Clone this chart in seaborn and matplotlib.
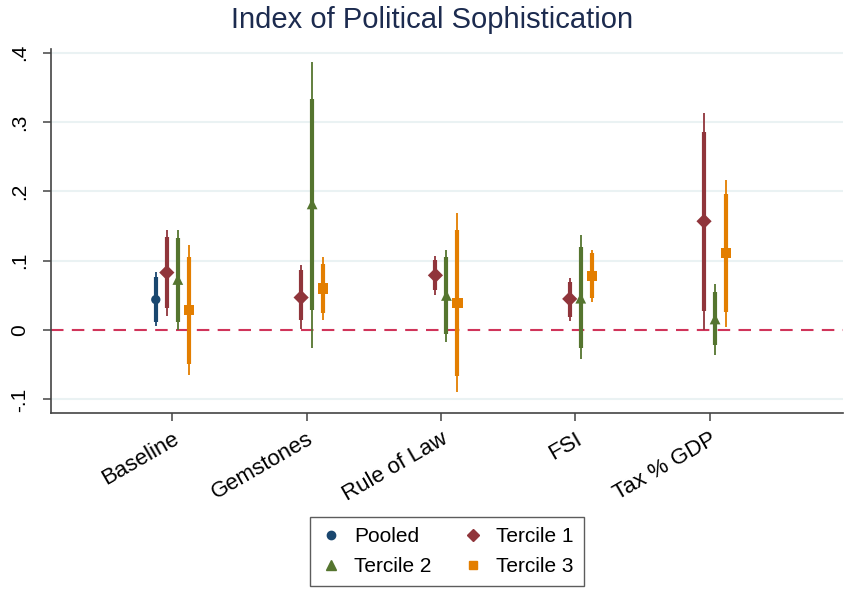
import pandas as pd
import seaborn as sns
import matplotlib.pyplot as plt
from matplotlib.lines import Line2D

categories = ["Baseline", "Gemstones", "Rule of Law", "FSI", "Tax % GDP"]
series = ["Pooled", "Tercile 1", "Tercile 2", "Tercile 3"]

# pooled model only estimated for Baseline
pooled_coef = [0.044]
pooled_lo95 = [0.006]
pooled_hi95 = [0.084]
pooled_lo90 = [0.012]
pooled_hi90 = [0.076]

t1_coef = [0.083, 0.047, 0.079, 0.045, 0.157]
t1_lo95 = [0.020, 0.001, 0.050, 0.013, 0.000]
t1_hi95 = [0.145, 0.094, 0.107, 0.075, 0.313]
t1_lo90 = [0.032, 0.014, 0.058, 0.019, 0.028]
t1_hi90 = [0.135, 0.087, 0.101, 0.070, 0.286]

t2_coef = [0.073, 0.182, 0.050, 0.046, 0.016]
t2_lo95 = [0.000, -0.026, -0.017, -0.042, -0.036]
t2_hi95 = [0.144, 0.387, 0.116, 0.137, 0.066]
t2_lo90 = [0.012, 0.029, -0.005, -0.026, -0.022]
t2_hi90 = [0.133, 0.333, 0.106, 0.120, 0.055]

t3_coef = [0.029, 0.060, 0.039, 0.078, 0.111]
t3_lo95 = [-0.065, 0.014, -0.090, 0.041, 0.005]
t3_hi95 = [0.123, 0.106, 0.169, 0.116, 0.216]
t3_lo90 = [-0.049, 0.024, -0.066, 0.047, 0.026]
t3_hi90 = [0.106, 0.096, 0.145, 0.111, 0.197]

colors = {"Pooled": "#1a476f", "Tercile 1": "#90353b",
          "Tercile 2": "#55752f", "Tercile 3": "#e37e00"}
markers = {"Pooled": "o", "Tercile 1": "D", "Tercile 2": "^", "Tercile 3": "s"}
msize = {"Pooled": 45, "Tercile 1": 60, "Tercile 2": 60, "Tercile 3": 55}
offset = {"Pooled": -0.123, "Tercile 1": -0.041, "Tercile 2": 0.041, "Tercile 3": 0.123}

rows = []
est = {
    "Pooled": (pooled_coef, pooled_lo95, pooled_hi95, pooled_lo90, pooled_hi90),
    "Tercile 1": (t1_coef, t1_lo95, t1_hi95, t1_lo90, t1_hi90),
    "Tercile 2": (t2_coef, t2_lo95, t2_hi95, t2_lo90, t2_hi90),
    "Tercile 3": (t3_coef, t3_lo95, t3_hi95, t3_lo90, t3_hi90),
}
for s, (c, l95, h95, l90, h90) in est.items():
    for i in range(len(c)):
        rows.append(dict(series=s, cat=categories[i], pos=i + 1 + offset[s],
                         coef=c[i], lo95=l95[i], hi95=h95[i], lo90=l90[i], hi90=h90[i]))
df = pd.DataFrame(rows)

sns.set_style("white")
plt.rcParams["font.family"] = ["Liberation Sans", "DejaVu Sans"]

fig = plt.figure(figsize=(8.52, 5.9), dpi=100)
ax = fig.add_axes([0.0599, 0.2995, 0.9296, 0.6175])

for y in [-0.1, 0.1, 0.2, 0.3, 0.4]:
    ax.axhline(y, color="#eaf2f3", lw=1.5, zorder=0)
ax.axhline(0, color="#d0345a", lw=1.5, ls=(0, (6, 4)), zorder=1)

for s in series:
    sub = df[df.series == s]
    ax.vlines(sub.pos, sub.lo95, sub.hi95, color=colors[s], lw=1.3, zorder=2)
    ax.vlines(sub.pos, sub.lo90, sub.hi90, color=colors[s], lw=3.0, zorder=2)
    sns.scatterplot(data=sub, x="pos", y="coef", marker=markers[s], color=colors[s],
                    s=msize[s], edgecolor="none", ax=ax, zorder=3, legend=False)

ax.set_xlim(0.097, 5.994)
ax.set_ylim(-0.120, 0.4055)
ax.set_xticks(range(1, len(categories) + 1))
ax.set_xticklabels(categories, rotation=30, ha="right", rotation_mode="anchor",
                   fontsize=16, color="black")
ax.set_yticks([-0.1, 0, 0.1, 0.2, 0.3, 0.4])
ax.set_yticklabels(["-.1", "0", ".1", ".2", ".3", ".4"], rotation=90, va="center",
                   fontsize=15, color="black")
ax.tick_params(axis="both", bottom=True, left=True, length=6, width=1.1,
               color="#444444", direction="out")
ax.tick_params(axis="x", pad=5)
ax.tick_params(axis="y", pad=10)
ax.set_xlabel("")
ax.set_ylabel("")
for side in ["top", "right"]:
    ax.spines[side].set_visible(False)
for side in ["left", "bottom"]:
    ax.spines[side].set_color("#444444")
    ax.spines[side].set_linewidth(1.2)

fig.text(0.507, 0.966, "Index of Political Sophistication", ha="center", va="center",
         fontsize=21, color="#1c2b4f")

handles = [Line2D([], [], ls="none", marker=markers[s], color=colors[s],
                  markersize=6 if s != "Tercile 2" else 7) for s in series]
# order so the legend reads Pooled, Tercile 1 / Tercile 2, Tercile 3 row-wise
order = [0, 2, 1, 3]
leg = fig.legend([handles[i] for i in order], [series[i] for i in order], ncol=2,
                 loc="center", bbox_to_anchor=(0.525, 0.065), fontsize=15,
                 frameon=True, fancybox=False, edgecolor="#333333",
                 handlelength=1.0, handletextpad=0.6, columnspacing=1.5,
                 labelspacing=0.5, borderpad=0.5)
leg.get_frame().set_linewidth(1.0)
for t in leg.get_texts():
    t.set_color("black")

fig.savefig("out.png", dpi=100)
